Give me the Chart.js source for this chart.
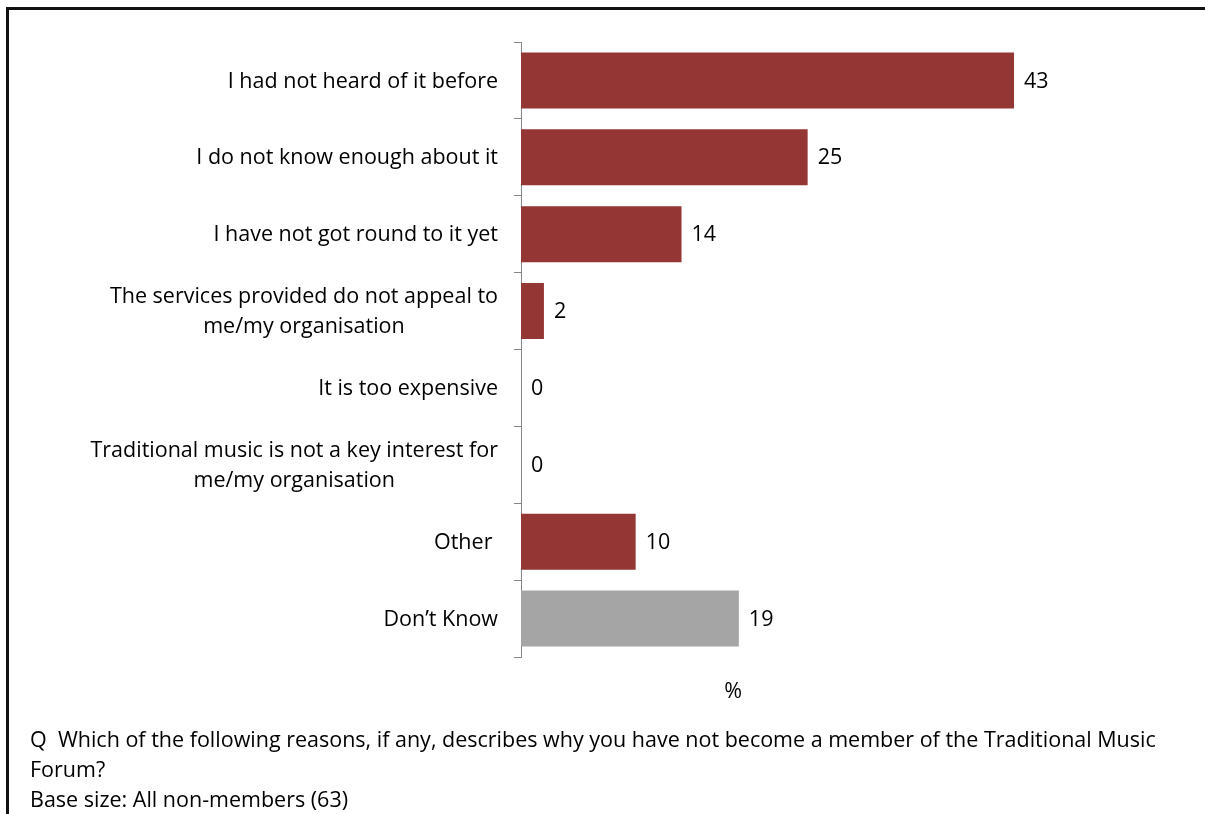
<!DOCTYPE html>
<html>
<head>
<meta charset="utf-8">
<script src="https://cdn.jsdelivr.net/npm/chart.js@4/dist/chart.umd.min.js"></script>
<style>
  html, body { margin: 0; padding: 0; background: #fff; }
  #wrap { position: relative; width: 1205px; height: 814px; overflow: hidden; }
  #frame { position: absolute; left: 6px; top: 7px; width: 1210px; height: 820px;
           border-left: 3px solid #111; border-top: 3px solid #111; box-sizing: border-box; }
  canvas { position: absolute; left: 0; top: 0; }
  #note { position: absolute; left: 30px; top: 724px; width: 1170px; white-space: nowrap;
          font-family: "Open Sans", sans-serif; font-size: 21.5px; line-height: 30px; color: #000; }
</style>
</head>
<body>
<div id="wrap">
  <div id="frame"></div>
  <canvas id="c" width="1205" height="814"></canvas>
  <div id="note">Q&nbsp; Which of the following reasons, if any, describes why you have not become a member of the Traditional Music<br>Forum?<br>Base size: All non-members (63)</div>
</div>
<script>
// Reasons for not joining, with the share of non-members giving each (%)
const categories = [
  ['I had not heard of it before'],
  ['I do not know enough about it'],
  ['I have not got round to it yet'],
  ['The services provided do not appeal to', 'me/my organisation'],
  ['It is too expensive'],
  ['Traditional music is not a key interest for', 'me/my organisation'],
  ['Other '],
  ['Don\u2019t Know']
];
const values = [43, 25, 14, 2, 0, 0, 10, 19];
const barColors = ['#943634', '#943634', '#943634', '#943634', '#943634', '#943634', '#943634', '#A5A5A5'];
const axisTitle = '%';

const FONT = '"Open Sans", sans-serif';

// Category labels: block right-aligned against the axis, lines centred within the block
const labelPlugin = {
  id: 'labels',
  afterDraw(chart) {
    const ctx = chart.ctx;
    const y = chart.scales.y;
    const x = chart.scales.x;
    ctx.save();
    ctx.font = '21.5px ' + FONT;
    ctx.fillStyle = '#000';
    ctx.textBaseline = 'middle';
    const right = chart.chartArea.left - 23;
    const lh = 30;
    categories.forEach((lines, i) => {
      const cy = y.getPixelForValue(i) + 1;
      const widths = lines.map(l => ctx.measureText(l).width);
      const maxW = Math.max(...widths);
      const cx = right - maxW / 2;
      ctx.textAlign = 'center';
      lines.forEach((l, j) => {
        ctx.fillText(l, cx, cy + (j - (lines.length - 1) / 2) * lh);
      });
    });
    // value labels at the end of each bar
    const meta = chart.getDatasetMeta(0);
    ctx.textAlign = 'left';
    meta.data.forEach((bar, i) => {
      ctx.fillText(String(values[i]), bar.x + 10, bar.y + 1);
    });
    // axis title
    ctx.textAlign = 'center';
    ctx.fillText(axisTitle, x.getPixelForValue(18.5), 692);
    ctx.restore();
  }
};

new Chart(document.getElementById('c'), {
  type: 'bar',
  data: {
    labels: categories,
    datasets: [{
      data: values,
      backgroundColor: barColors,
      borderWidth: 0,
      barPercentage: 0.73,
      categoryPercentage: 1.0
    }]
  },
  options: {
    indexAxis: 'y',
    responsive: false,
    animation: false,
    devicePixelRatio: 1,
    layout: { padding: { left: 514, top: 42, right: 19, bottom: 157 } },
    plugins: { legend: { display: false }, tooltip: { enabled: false } },
    scales: {
      x: { display: false, min: 0, max: 58 },
      y: {
        ticks: { display: false },
        grid: { display: true, drawOnChartArea: false, drawTicks: true, tickLength: 7, color: '#868686', lineWidth: 1, offset: true },
        border: { display: true, color: '#868686', width: 1 }
      }
    }
  },
  plugins: [labelPlugin]
});
</script>
</body>
</html>
